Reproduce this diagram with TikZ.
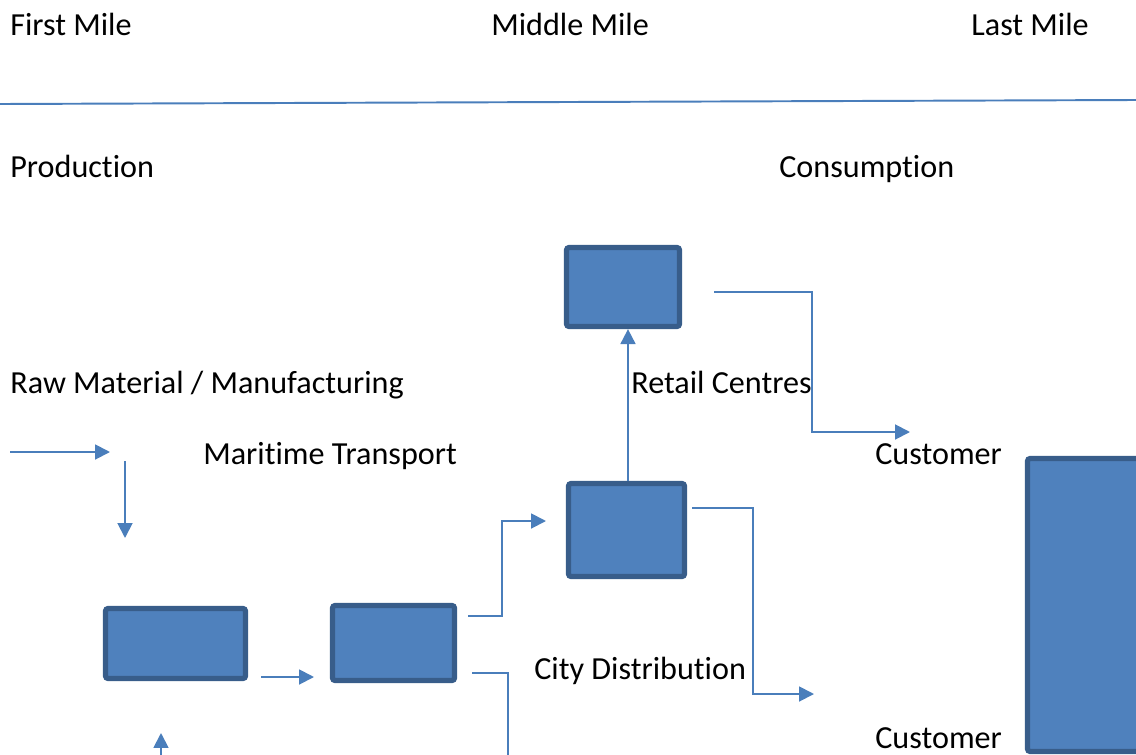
\documentclass[tikz,border=0pt]{standalone}
\usepackage{fontspec}
\setmainfont[Ligatures=NoCommon]{Carlito}
\usetikzlibrary{arrows.meta}

\definecolor{boxfill}{HTML}{4F81BD}
\definecolor{boxline}{HTML}{385D8A}
\definecolor{flow}{HTML}{4A7EBB}

\tikzset{
  stage/.style={draw=boxline, fill=boxfill, line width=3pt, rounded corners=1.5pt, inner sep=0pt},
  lbl/.style={anchor=base west, inner sep=0pt, font=\fontsize{18.3}{22}\selectfont},
  flowline/.style={draw=flow, line width=1.1pt},
  flowarrow/.style={flowline, -{Triangle[length=8.5pt,width=8.5pt]}}
}

\begin{document}
\begin{tikzpicture}
[x=0.02cm, y=-0.02cm]
\useasboundingbox (0,0) rectangle (1136,754);
\clip (0,0) rectangle (1136,754);

% headings
\node[lbl] (firstmile) at (10,35) {First Mile};
\node[lbl] (middlemile) at (491,35) {Middle Mile};
\node[lbl] (lastmile) at (971,35) {Last Mile};
\draw[flowline] (0,104) -- (1136,100);
\node[lbl] (production) at (10,177) {Production};
\node[lbl] (consumption) at (779,177) {Consumption};

% labels
\node[lbl] (rawmat) at (10,393) {Raw Material / Manufacturing};
\node[lbl] (retailtxt) at (631,393) {Retail Centres};
\node[lbl] (maritime) at (203,464) {Maritime Transport};
\node[lbl] (customera) at (875,464) {Customer};
\node[lbl] (citydist) at (534,679) {City Distribution};
\node[lbl] (customerb) at (875,748) {Customer};

% boxes
\node[stage, minimum width=2.26cm, minimum height=1.58cm] (retail) at (623,287) {};
\node[stage, minimum width=2.32cm, minimum height=1.86cm] (city) at (626.5,530) {};
\node[stage, minimum width=2.44cm, minimum height=1.5cm] (port) at (393.5,643) {};
\node[stage, minimum width=2.8cm, minimum height=1.4cm] (raw) at (175.5,643.5) {};
\node[stage, minimum width=2.66cm, minimum height=5.86cm] (shop) at (1094,605) {};

% free ends
\coordinate (feed) at (10,452);
\coordinate (feedend) at (110,452);
\coordinate (drop) at (125,461);
\coordinate (dropend) at (125,538);
\coordinate (lift) at (161,760);
\coordinate (liftend) at (161,733);
\coordinate (rawout) at (261,677);
\coordinate (portin) at (314,677);
\coordinate (porthigh) at (468,616);
\coordinate (cityin) at (546,521);
\coordinate (portlow) at (472,673);
\coordinate (retailout) at (714,292);
\coordinate (custa) at (910,432);
\coordinate (cityout) at (692,508);
\coordinate (custb) at (814,694);

% flows
\draw[flowarrow] (feed) -- (feedend);
\draw[flowarrow] (drop) -- (dropend);
\draw[flowarrow] (lift) -- (liftend);
\draw[flowarrow] (rawout) -- (portin);
\draw[flowarrow] (porthigh) -- ++(34,0) |- (cityin);
\draw[flowline] (portlow) -- ++(36,0) -- ++(0,100);
\draw[flowarrow] ([xshift=0.03cm]city.north) -- ([xshift=0.03cm]city.north |- retail.south);
\draw[flowarrow] (retailout) -- ++(98,0) |- (custa);
\draw[flowarrow] (cityout) -- ++(61,0) |- (custb);
\end{tikzpicture}
\end{document}
